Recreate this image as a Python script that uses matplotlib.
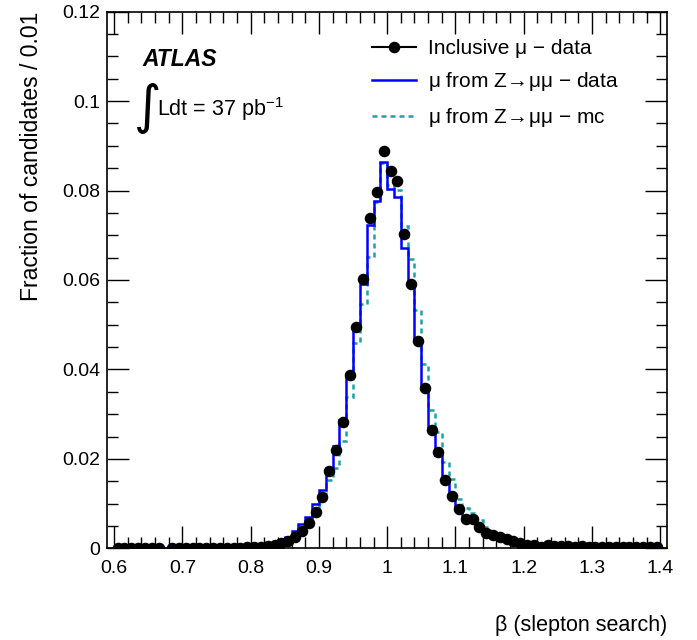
import numpy as np
import matplotlib
matplotlib.use("Agg")
import matplotlib.pyplot as plt
from matplotlib.lines import Line2D
from matplotlib.ticker import MultipleLocator

plt.rcParams['font.family'] = ['Liberation Sans', 'DejaVu Sans']
plt.rcParams['mathtext.fontset'] = 'custom'
plt.rcParams['mathtext.rm'] = 'Liberation Sans'

# bin centres of the inclusive-muon data points (width 0.01)
beta_pts = np.round(np.arange(0.605, 1.40, 0.01), 3)
incl_data = [
    0.00005, 0.00005, 0.00005, 0.00005, 0.00005, 0.00005, 0.00005, np.nan,   # 0.605-0.675
    0.0001, 0.0001, 0.0001, 0.0001, 0.0001, 0.0001, 0.0002, 0.0002,          # 0.685-0.755
    0.0002, 0.0002, 0.0002, 0.0003, 0.0003, 0.0004, 0.0006, 0.0008,          # 0.765-0.835
    0.0012, 0.0017, 0.0025, 0.0038, 0.0058, 0.0082, 0.0114, 0.0173,          # 0.845-0.915
    0.0221, 0.0283, 0.0388, 0.0495, 0.0602, 0.0738, 0.0797, 0.0888,          # 0.925-0.995
    0.0844, 0.0821, 0.0703, 0.0590, 0.0464, 0.0358, 0.0265, 0.0215,          # 1.005-1.075
    0.0153, 0.0118, 0.0088, 0.0066, 0.0066, 0.0047, 0.0034, 0.0030,          # 1.085-1.155
    0.0025, 0.0021, 0.0017, 0.0012, 0.0008, 0.0007, 0.0004, 0.0007,          # 1.165-1.235
    0.0006, 0.0006, 0.0005, 0.0004, 0.0005, 0.0004, 0.0004, 0.0004,          # 1.245-1.315
    0.0003, 0.0004, 0.0003, 0.0003, 0.0003, 0.0003, 0.0003, 0.0003,          # 1.325-1.395
]

# histogram edges for the Z->mumu samples (0.59 - 1.41)
hist_edges = np.round(np.arange(0.59, 1.4101, 0.01), 3)
zmm_data = [
    0.0,
    0.0, 0.0, 0.0, 0.0, 0.0, 0.0, 0.0, 0.0,                                  # 0.605-0.675
    0.0001, 0.0001, 0.0001, 0.0001, 0.0001, 0.0001, 0.0001, 0.0002,          # 0.685-0.755
    0.0002, 0.0002, 0.0002, 0.0002, 0.0003, 0.0005, 0.0008, 0.0012,          # 0.765-0.835
    0.0018, 0.0026, 0.0038, 0.0055, 0.0071, 0.0099, 0.0130, 0.0179,          # 0.845-0.915
    0.0228, 0.0287, 0.0389, 0.0496, 0.0590, 0.0723, 0.0777, 0.0863,          # 0.925-0.995
    0.0803, 0.0786, 0.0672, 0.0590, 0.0464, 0.0357, 0.0265, 0.0209,          # 1.005-1.075
    0.0153, 0.0120, 0.0090, 0.0071, 0.0064, 0.0049, 0.0037, 0.0030,          # 1.085-1.155
    0.0024, 0.0019, 0.0015, 0.0011, 0.0009, 0.0007, 0.0006, 0.0005,          # 1.165-1.235
    0.0005, 0.0004, 0.0004, 0.0003, 0.0003, 0.0003, 0.0003, 0.0002,          # 1.245-1.315
    0.0002, 0.0002, 0.0002, 0.0002, 0.0002, 0.0002, 0.0002, 0.0002,          # 1.325-1.395
    0.0,
]
zmm_mc = [
    0.0,
    0.0, 0.0, 0.0, 0.0, 0.0, 0.0, 0.0, 0.0,                                  # 0.605-0.675
    0.0, 0.0, 0.0, 0.0001, 0.0001, 0.0001, 0.0001, 0.0001,                   # 0.685-0.755
    0.0001, 0.0001, 0.0001, 0.0001, 0.0002, 0.0003, 0.0005, 0.0008,          # 0.765-0.835
    0.0012, 0.0018, 0.0028, 0.0041, 0.0056, 0.0075, 0.0110, 0.0153,          # 0.845-0.915
    0.0180, 0.0240, 0.0339, 0.0459, 0.0546, 0.0652, 0.0775, 0.0861,          # 0.925-0.995
    0.0812, 0.0801, 0.0721, 0.0646, 0.0533, 0.0412, 0.0310, 0.0260,          # 1.005-1.075
    0.0194, 0.0155, 0.0110, 0.0091, 0.0080, 0.0064, 0.0049, 0.0038,          # 1.085-1.155
    0.0030, 0.0024, 0.0019, 0.0014, 0.0011, 0.0009, 0.0007, 0.0006,          # 1.165-1.235
    0.0005, 0.0004, 0.0004, 0.0003, 0.0003, 0.0003, 0.0003, 0.0002,          # 1.245-1.315
    0.0002, 0.0002, 0.0002, 0.0002, 0.0002, 0.0002, 0.0002, 0.0002,          # 1.325-1.395
    0.0,
]

blue = '#0000ff'
teal = '#1aa3a8'

fig = plt.figure(figsize=(6.97, 6.40), dpi=100)
ax = fig.add_axes([0.154, 0.143, 0.803, 0.839])

ax.stairs(zmm_mc, hist_edges, color=teal, lw=1.8, ls=(0, (2.0, 1.6)), zorder=2)
ax.stairs(zmm_data, hist_edges, color=blue, lw=1.8, zorder=3)
ax.plot(beta_pts, incl_data, 'o', color='black', ms=7.3, zorder=4)

ax.set_xlim(0.59, 1.41)
ax.set_ylim(0, 0.12)
ax.xaxis.set_minor_locator(MultipleLocator(0.02))
ax.yaxis.set_minor_locator(MultipleLocator(0.005))
ax.set_xticks([0.6, 0.7, 0.8, 0.9, 1.0, 1.1, 1.2, 1.3, 1.4])
ax.set_xticklabels(['0.6', '0.7', '0.8', '0.9', '1', '1.1', '1.2', '1.3', '1.4'])
ax.set_yticks([0, 0.02, 0.04, 0.06, 0.08, 0.1, 0.12])
ax.set_yticklabels(['0', '0.02', '0.04', '0.06', '0.08', '0.1', '0.12'])
ax.tick_params(which='both', direction='in', top=True, right=True, labelsize=14, width=1)
ax.tick_params(axis='x', which='major', length=16, pad=8)
ax.tick_params(axis='y', which='major', length=16, pad=5)
ax.tick_params(which='minor', length=8)
for sp in ax.spines.values():
    sp.set_linewidth(1.2)

ax.set_ylabel('Fraction of candidates / 0.01', fontsize=16.5, loc='top', labelpad=14)
ax.set_xlabel('β (slepton search)', fontsize=15.5, loc='right', labelpad=28)

ax.text(0.063, 0.898, 'ATLAS', transform=ax.transAxes, fontsize=16.5,
        fontweight='bold', fontstyle='italic', va='baseline')
ax.text(0.048, 0.792, '∫', transform=ax.transAxes, fontsize=38, va='baseline',
        family=['DejaVu Sans'])
ax.text(0.088, 0.806, 'Ldt = 37 pb$^{\\mathregular{-1}}$', transform=ax.transAxes,
        fontsize=15.5, va='baseline')

handles = [
    Line2D([], [], color='black', marker='o', ms=7.3, lw=1.5),
    Line2D([], [], color=blue, lw=1.8),
    Line2D([], [], color=teal, lw=1.8, ls=(0, (2.0, 1.6))),
]
labels = ['Inclusive μ − data',
          'μ from Z$\\!\\rightarrow\\!$μμ − data',
          'μ from Z$\\!\\rightarrow\\!$μμ − mc']
ax.legend(handles, labels, loc='upper left', bbox_to_anchor=(0.44, 0.984),
          frameon=False, fontsize=15, handlelength=2.1, handletextpad=0.55,
          labelspacing=0.6)

fig.savefig('out.png', dpi=100)
